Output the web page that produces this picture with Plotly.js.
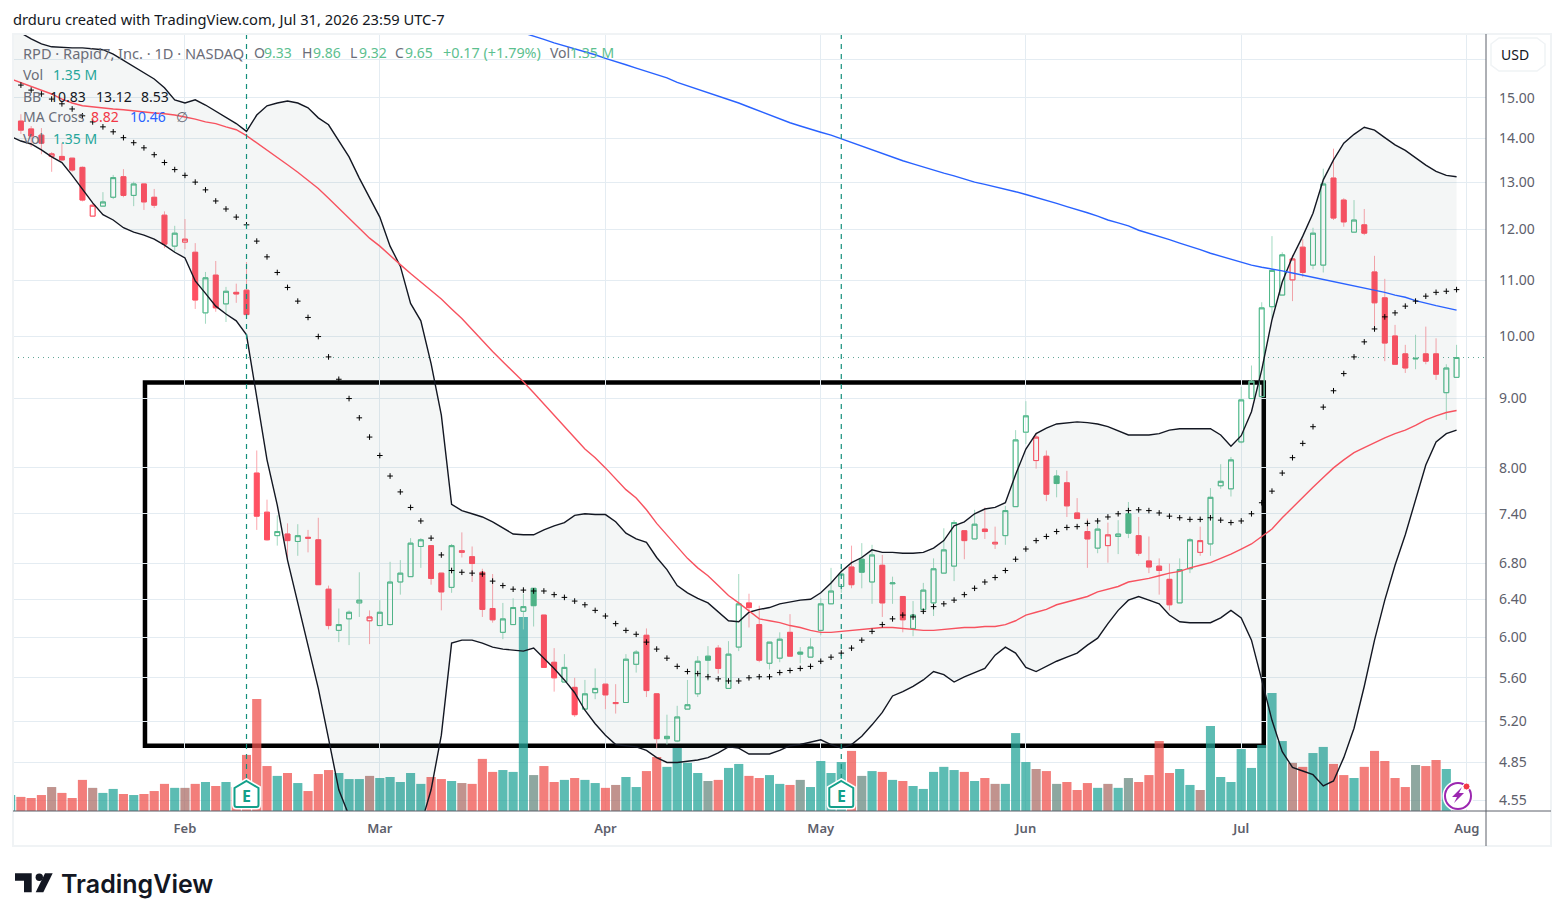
<!DOCTYPE html>
<html><head><meta charset="utf-8">
<script src="https://cdn.plot.ly/plotly-3.0.1.min.js"></script>
<style>html,body{margin:0;padding:0;background:#fff}#c{width:1564px;height:921px}</style>
</head><body><div id="c"></div>
<script>
const dates=[
'2026-01-07','2026-01-08','2026-01-09','2026-01-12','2026-01-13','2026-01-14','2026-01-15','2026-01-16','2026-01-20','2026-01-21','2026-01-22','2026-01-23','2026-01-26','2026-01-27','2026-01-28','2026-01-29','2026-01-30',
'2026-02-02','2026-02-03','2026-02-04','2026-02-05','2026-02-06','2026-02-09','2026-02-10','2026-02-11','2026-02-12','2026-02-13','2026-02-17','2026-02-18','2026-02-19','2026-02-20','2026-02-23','2026-02-24','2026-02-25','2026-02-26','2026-02-27',
'2026-03-02','2026-03-03','2026-03-04','2026-03-05','2026-03-06','2026-03-09','2026-03-10','2026-03-11','2026-03-12','2026-03-13','2026-03-16','2026-03-17','2026-03-18','2026-03-19','2026-03-20','2026-03-23','2026-03-24','2026-03-25','2026-03-26','2026-03-27','2026-03-30','2026-03-31',
'2026-04-01','2026-04-02','2026-04-06','2026-04-07','2026-04-08','2026-04-09','2026-04-10','2026-04-13','2026-04-14','2026-04-15','2026-04-16','2026-04-17','2026-04-20','2026-04-21','2026-04-22','2026-04-23','2026-04-24','2026-04-27','2026-04-28','2026-04-29','2026-04-30',
'2026-05-01','2026-05-04','2026-05-05','2026-05-06','2026-05-07','2026-05-08','2026-05-11','2026-05-12','2026-05-13','2026-05-14','2026-05-15','2026-05-18','2026-05-19','2026-05-20','2026-05-21','2026-05-22','2026-05-26','2026-05-27','2026-05-28','2026-05-29',
'2026-06-01','2026-06-02','2026-06-03','2026-06-04','2026-06-05','2026-06-08','2026-06-09','2026-06-10','2026-06-11','2026-06-12','2026-06-15','2026-06-16','2026-06-17','2026-06-18','2026-06-22','2026-06-23','2026-06-24','2026-06-25','2026-06-26','2026-06-29','2026-06-30',
'2026-07-01','2026-07-02','2026-07-06','2026-07-07','2026-07-08','2026-07-09','2026-07-10','2026-07-13','2026-07-14','2026-07-15','2026-07-16','2026-07-17','2026-07-20','2026-07-21','2026-07-22','2026-07-23','2026-07-24','2026-07-27','2026-07-28','2026-07-29','2026-07-30','2026-07-31'];
const allCategories=dates.concat(['2026-08-03']);
const open=[14.33,14.42,14.23,14.08,13.58,13.58,13.54,13.33,12.27,12.48,
12.67,13.12,12.71,12.96,12.67,12.29,11.66,11.74,11.54,10.41,
11.10,10.57,10.78,10.82,7.93,7.42,7.13,7.15,7.06,7.11,
7.08,6.51,6.07,6.19,6.36,6.17,6.12,6.13,6.59,6.65,
7.00,7.01,6.69,6.53,6.93,6.88,6.70,6.30,6.05,6.13,
6.27,6.52,6.23,5.75,5.56,5.51,5.31,5.46,5.54,5.36,
5.37,5.73,6.02,5.45,5.05,5.03,5.31,5.45,5.81,5.89,
5.50,5.90,6.36,6.13,5.74,5.79,6.05,5.85,5.80,6.07,
6.35,6.54,6.76,6.85,6.59,6.78,6.57,6.43,6.09,6.29,
6.36,6.69,6.77,7.19,7.09,7.21,7.03,7.13,7.49,8.50,
8.10,8.16,7.89,7.80,7.41,7.18,6.98,7.01,7.12,7.40,
7.13,6.83,6.77,6.62,6.36,6.74,6.93,7.03,7.76,7.72,
8.36,9.00,9.03,10.52,10.73,11.01,11.64,11.29,11.29,13.09,
12.61,11.94,12.09,11.16,10.68,10.01,9.71,9.64,9.71,9.71,
9.09,9.33];
const close=[14.59,14.20,14.06,13.89,13.64,13.50,13.27,12.61,12.50,12.57,
13.10,12.71,12.96,12.57,12.50,11.70,11.92,11.80,10.64,11.05,
10.50,10.80,10.75,10.38,7.37,7.08,7.18,7.07,7.13,7.10,
6.56,6.12,6.13,6.26,6.39,6.21,6.26,6.59,6.69,7.04,
7.08,6.63,6.48,7.01,6.95,6.80,6.29,6.18,6.19,6.31,
6.32,6.33,5.70,5.60,5.70,5.26,5.45,5.50,5.44,5.37,
5.78,5.85,5.48,5.05,5.07,5.24,5.35,5.76,5.77,5.69,
5.83,6.35,6.31,5.77,5.95,5.98,5.81,5.83,5.90,6.35,
6.49,6.68,6.56,6.70,6.90,6.36,6.58,6.18,6.23,6.50,
6.74,6.96,7.29,7.07,7.27,7.18,7.05,7.44,8.39,8.74,
8.43,7.65,7.79,7.50,7.34,7.09,7.21,7.14,7.15,7.16,
6.92,6.76,6.72,6.34,6.73,7.08,7.07,7.61,7.82,8.11,
8.98,9.27,10.50,11.19,11.49,11.41,11.15,11.92,12.96,12.23,
12.15,12.19,11.92,10.59,9.89,9.54,9.48,9.63,9.59,9.38,
9.48,9.65];
const high=[14.70,14.59,14.30,14.25,13.68,13.89,13.54,13.35,12.55,12.78,
13.16,13.29,13.01,12.96,12.85,12.37,12.07,12.21,11.72,11.16,
11.37,10.88,10.94,11.35,8.24,7.58,7.38,7.28,7.27,7.20,
7.35,6.55,6.30,6.28,6.70,6.28,6.39,6.82,6.84,7.10,
7.10,7.01,6.69,7.03,7.17,7.00,6.74,6.68,6.36,6.41,
6.46,6.52,6.23,5.89,5.83,5.60,5.58,5.69,5.54,5.54,
5.83,5.87,6.09,5.45,5.26,5.34,5.58,5.81,5.91,5.92,
5.96,6.68,6.46,6.33,5.95,6.05,6.24,5.90,5.99,6.41,
6.75,6.76,7.01,7.04,7.02,6.90,6.65,6.43,6.38,6.58,
6.86,7.22,7.32,7.19,7.45,7.48,7.24,7.50,8.53,8.96,
8.49,8.24,7.97,7.96,7.60,7.34,7.32,7.29,7.32,7.55,
7.36,7.12,6.86,6.80,6.86,7.10,7.24,7.73,8.05,8.15,
9.18,9.52,10.60,11.86,11.54,11.49,11.80,12.03,13.30,13.76,
12.65,12.61,12.42,11.47,11.03,10.20,9.86,10.03,10.17,9.97,
9.54,9.86];
const low=[14.20,14.11,13.80,13.63,13.23,13.48,13.23,12.58,12.27,12.48,
12.63,12.67,12.48,12.40,12.44,11.62,11.54,11.60,10.48,10.22,
10.43,10.25,10.59,10.38,7.20,7.07,7.01,6.84,6.89,6.93,
6.56,6.08,5.95,5.92,6.21,5.93,6.12,6.12,6.45,6.65,
6.75,6.56,6.28,6.47,6.87,6.59,6.21,6.15,5.98,6.13,
6.08,6.11,5.70,5.47,5.56,5.24,5.30,5.40,5.31,5.27,
5.37,5.65,5.42,4.97,5.00,5.02,5.31,5.42,5.57,5.64,
5.50,5.86,6.10,5.75,5.68,5.75,5.81,5.74,5.80,6.02,
6.35,6.47,6.52,6.52,6.35,6.21,6.35,6.05,6.01,6.25,
6.22,6.69,6.60,6.85,7.09,7.09,6.97,7.02,7.49,8.33,
7.99,7.56,7.61,7.36,7.34,6.75,6.92,6.81,6.91,7.10,
6.89,6.69,6.45,6.28,6.36,6.69,6.89,6.89,7.72,7.62,
8.34,9.00,9.03,10.32,10.73,10.62,11.06,11.21,11.15,12.19,
12.05,11.94,11.88,10.15,9.59,9.54,9.40,9.46,9.54,9.29,
8.68,9.32];
const volumeM=[.76,.67,.62,.76,1.14,.86,.62,1.48,1.10,.86,
1.05,.81,.76,.81,.95,1.29,1.10,1.10,1.29,1.38,
1.19,1.38,1.14,2.67,5.33,2.14,1.67,1.81,1.33,.95,
1.76,1.95,1.81,1.52,1.52,1.67,1.57,1.62,1.38,1.81,
1.29,1.62,1.52,1.43,1.33,1.29,2.48,1.86,1.95,1.86,
9.24,1.71,2.14,1.38,1.48,1.57,1.48,1.33,1.10,1.24,
1.62,1.14,1.90,2.57,2.10,3.00,2.29,1.81,1.43,1.48,
2.05,2.24,1.67,1.57,1.71,1.29,1.24,1.48,1.14,2.38,
1.81,2.33,2.86,1.67,1.90,1.86,1.48,1.43,1.19,1.05,
1.86,2.10,1.95,1.86,1.43,1.57,1.29,1.29,3.71,2.33,
2.00,1.90,1.29,1.38,1.00,1.33,1.10,1.29,1.10,1.57,
1.38,1.71,3.33,1.81,2.00,1.24,1.00,4.05,1.62,1.38,
2.95,2.05,3.14,5.62,3.33,2.29,2.10,2.76,3.05,2.24,
1.71,1.57,2.10,2.86,2.38,1.57,1.14,2.19,2.14,2.43,
2.00,1.35];
const bbBasis=[15.44,15.33,15.20,15.10,14.97,14.85,14.72,14.55,14.40,14.28,
14.16,14.02,13.90,13.78,13.62,13.44,13.28,13.15,13.00,12.83,
12.59,12.42,12.25,12.09,11.76,11.45,11.15,10.87,10.62,10.33,
10.00,9.66,9.30,9.00,8.71,8.43,8.17,7.89,7.68,7.48,
7.31,7.10,6.90,6.72,6.70,6.69,6.68,6.60,6.55,6.51,
6.50,6.49,6.49,6.45,6.42,6.38,6.34,6.28,6.22,6.14,
6.07,6.03,5.95,5.88,5.79,5.71,5.66,5.64,5.61,5.59,
5.57,5.57,5.60,5.61,5.61,5.65,5.67,5.69,5.71,5.76,
5.80,5.84,5.89,5.97,6.06,6.13,6.19,6.23,6.21,6.27,
6.32,6.35,6.39,6.45,6.52,6.59,6.64,6.72,6.85,6.97,
7.07,7.12,7.18,7.23,7.24,7.28,7.31,7.36,7.40,7.44,
7.45,7.44,7.41,7.37,7.35,7.33,7.33,7.35,7.32,7.29,
7.31,7.40,7.54,7.69,7.93,8.14,8.34,8.58,8.87,9.12,
9.39,9.66,9.91,10.13,10.34,10.41,10.53,10.62,10.71,10.78,
10.80,10.83];
const bbUpper=[16.89,16.75,16.58,16.44,16.36,16.34,16.33,16.33,16.31,16.28,
16.16,15.99,15.83,15.67,15.49,15.26,14.95,14.87,14.95,14.82,
14.67,14.52,14.36,14.17,14.57,14.80,14.87,14.92,14.87,14.75,
14.50,14.33,13.93,13.57,13.09,12.65,12.25,11.66,11.27,10.58,
10.27,9.55,8.75,7.52,7.44,7.40,7.36,7.30,7.22,7.15,
7.14,7.14,7.20,7.25,7.29,7.38,7.40,7.39,7.39,7.30,
7.16,7.09,7.05,6.87,6.73,6.55,6.47,6.41,6.36,6.26,
6.17,6.16,6.26,6.29,6.31,6.35,6.37,6.39,6.40,6.47,
6.58,6.71,6.81,6.87,6.96,6.93,6.93,6.92,6.92,6.93,
6.98,7.07,7.25,7.30,7.40,7.46,7.48,7.54,7.91,8.26,
8.48,8.56,8.62,8.64,8.65,8.64,8.62,8.58,8.52,8.46,
8.46,8.46,8.48,8.53,8.55,8.55,8.55,8.55,8.46,8.30,
8.45,8.80,9.45,10.29,10.97,11.45,11.86,12.33,13.05,13.50,
13.89,14.10,14.27,14.20,14.02,13.85,13.72,13.55,13.38,13.24,
13.15,13.12];
const bbLower=[14.05,13.94,13.87,13.73,13.57,13.44,13.15,12.85,12.55,12.30,
12.19,12.03,11.94,11.88,11.80,11.68,11.54,11.43,10.99,10.76,
10.53,10.39,10.27,10.03,9.05,8.11,7.51,6.84,6.36,5.91,
5.50,5.05,4.63,4.43,4.25,4.10,4.03,3.96,3.96,4.10,
4.36,4.63,5.08,5.94,5.97,5.97,5.94,5.90,5.88,5.87,
5.86,5.89,5.79,5.69,5.58,5.46,5.30,5.18,5.08,5.00,
4.99,4.98,4.95,4.89,4.85,4.85,4.86,4.87,4.89,4.93,
4.98,4.97,4.92,4.92,4.92,4.95,4.99,5.00,5.02,5.04,
5.00,4.97,5.00,5.07,5.17,5.28,5.43,5.47,5.52,5.58,
5.66,5.63,5.56,5.61,5.65,5.69,5.82,5.90,5.84,5.70,
5.66,5.71,5.76,5.80,5.84,5.92,5.99,6.14,6.28,6.39,
6.43,6.39,6.35,6.23,6.16,6.15,6.15,6.15,6.20,6.28,
6.20,5.97,5.58,5.21,4.94,4.81,4.78,4.75,4.66,4.70,
4.89,5.14,5.52,5.97,6.39,6.78,7.14,7.57,8.04,8.36,
8.48,8.53];
const ma50=[15.49,15.39,15.31,15.20,15.10,14.97,14.87,14.80,14.77,14.75,
14.72,14.70,14.67,14.65,14.62,14.60,14.57,14.52,14.47,14.40,
14.36,14.28,14.21,14.07,13.90,13.73,13.57,13.39,13.22,13.03,
12.86,12.65,12.44,12.23,12.03,11.82,11.66,11.47,11.30,11.13,
10.97,10.83,10.66,10.48,10.31,10.12,9.93,9.75,9.58,9.42,
9.26,9.09,8.92,8.76,8.59,8.42,8.26,8.14,8.00,7.85,
7.71,7.60,7.45,7.28,7.14,7.00,6.86,6.75,6.66,6.55,
6.44,6.36,6.27,6.19,6.17,6.15,6.12,6.10,6.07,6.05,
6.05,6.06,6.07,6.08,6.09,6.10,6.10,6.09,6.08,6.07,
6.07,6.08,6.09,6.10,6.10,6.11,6.11,6.13,6.17,6.23,
6.26,6.29,6.34,6.37,6.40,6.43,6.48,6.51,6.54,6.59,
6.61,6.63,6.66,6.69,6.71,6.75,6.78,6.81,6.86,6.91,
6.97,7.03,7.12,7.21,7.35,7.48,7.60,7.74,7.87,8.00,
8.11,8.21,8.28,8.35,8.42,8.48,8.53,8.60,8.68,8.74,
8.79,8.82];
const ma200FromMar=[16.75,16.67,16.57,16.47,16.39,16.30,16.21,16.14,16.04,15.96,
15.87,15.78,15.69,15.60,15.52,15.40,15.31,15.23,15.14,15.05,
14.96,14.87,14.77,14.67,14.57,14.47,14.38,14.30,14.22,14.15,
14.08,13.99,13.90,13.82,13.74,13.65,13.56,13.48,13.41,13.34,
13.26,13.20,13.14,13.07,13.00,12.95,12.90,12.84,12.79,12.73,
12.67,12.61,12.54,12.47,12.41,12.34,12.27,12.19,12.13,12.07,
11.98,11.92,11.86,11.79,11.72,11.66,11.59,11.52,11.46,11.40,
11.35,11.29,11.25,11.22,11.18,11.14,11.10,11.06,11.02,10.98,
10.95,10.91,10.87,10.83,10.78,10.73,10.69,10.63,10.58,10.54,
10.50,10.46];
const priceTicks=[16,15,14,13,12,11,10,9,8,7.4,6.8,6.4,6,5.6,5.2,4.85,4.55];
const priceLabels=['','15.00','14.00','13.00','12.00','11.00','10.00','9.00','8.00','7.40','6.80','6.40','6.00','5.60','5.20','4.85','4.55'];
const monthTicks=['2026-02-02','2026-03-02','2026-04-01','2026-05-01','2026-06-01','2026-07-01','2026-08-03'];
const monthLabels=['Feb','Mar','Apr','May','Jun','Jul','Aug'];
const earningsDates=['2026-02-10','2026-05-05'];
const lastPrice=9.65;
const boxHighLow=[9.25,4.99], boxDays=[13.1,122.2];

const GREEN='#50B88A',RED='#FF5062',GREENW='#A3DAC2',REDW='#FBA6AD',CLEAR='rgba(0,0,0,0)';
const TEAL='rgba(38,166,154,.5)',SALMON='rgba(239,83,80,.5)';
const L=13,R=1486,T=34,B=811,FONT='"Noto Sans",sans-serif';
const px=x=>(x-L)/(R-L), py=y=>(B-y)/(B-T);

const ups=[],downs=[];
close.forEach((c,i)=>{(i===0||c>=close[i-1])?ups.push(i):downs.push(i)});
function candle(ids,color,fill,wick){
  const top=i=>Math.max(open[i],close[i]),bot=i=>Math.min(open[i],close[i]);
  return {type:'candlestick',xaxis:'x',yaxis:'y2',hoverinfo:'skip',showlegend:false,
    x:ids.map(i=>dates[i]),open:ids.map(i=>open[i]),close:ids.map(i=>close[i]),
    high:ids.map(i=>wick?high[i]:top(i)),low:ids.map(i=>wick?low[i]:bot(i)),
    increasing:{line:{color,width:1},fillcolor:CLEAR},
    decreasing:{line:{color,width:1},fillcolor:fill}};
}
const line=(x,y,color,w,extra)=>Object.assign({type:'scatter',mode:'lines',x,y,xaxis:'x',yaxis:'y2',hoverinfo:'skip',showlegend:false,line:{color,width:w}},extra||{});
const traces=[
 {type:'bar',x:dates,y:volumeM,yaxis:'y',xaxis:'x',hoverinfo:'skip',showlegend:false,marker:{color:close.map((c,i)=>c>=open[i]?TEAL:SALMON),line:{width:0}}},
 {type:'bar',x:dates,y:volumeM,yaxis:'y',xaxis:'x',hoverinfo:'skip',showlegend:false,marker:{color:close.map((c,i)=>(i===0||c>=close[i-1])?TEAL:SALMON),line:{width:0}}},
 line(dates,bbUpper,'#131722',1.4),
 line(dates,bbLower,'#131722',1.4,{fill:'tonexty',fillcolor:'rgba(70,100,100,.058)'}),
 line(dates,ma50,'#F7525F',1.4),
 line(dates.slice(50),ma200FromMar,'#2962FF',1.4),
 {type:'scatter',mode:'markers',x:dates,y:bbBasis,xaxis:'x',yaxis:'y2',hoverinfo:'skip',showlegend:false,marker:{symbol:'cross-thin',size:4,color:'#000',line:{color:'#000',width:1}}},
 candle(ups,GREENW,CLEAR,true),candle(downs,REDW,CLEAR,true),
 candle(ups,GREEN,GREEN,false),candle(downs,RED,RED,false)
];
const lab=(text,x,y,color,size,o)=>Object.assign({text,x:px(x),y:py(y),xref:'paper',yref:'paper',xanchor:'left',yanchor:'middle',showarrow:false,borderpad:0,borderwidth:0,font:{family:FONT,size:size||14,color:color||'#6A6D78'}},o||{});
const LG='#5CC08F',TV='#26A69A';
const annotations=[
 lab('drduru created with TradingView.com, Jul 31, 2026 23:59 UTC-7',13,19,'#131722',14.7),
 lab('RPD · Rapid7, Inc. · 1D · NASDAQ',23,53,undefined,14.6),
 lab('O',254,53),lab('9.33',264,53,LG),lab('H',302,53),lab('9.86',313,53,LG),lab('L',350,53),lab('9.32',359,53,LG),lab('C',395,53),lab('9.65',405,53,LG),
 lab('+0.17 (+1.79%)',443,53,LG,14.4),lab('Vol',550,53),lab('1.35 M',570,53,LG),
 lab('Vol',23,75),lab('1.35 M',53,75,TV),
 lab('BB',23,96),lab('10.83',50,96,'#131722'),lab('13.12',96,96,'#131722'),lab('8.53',141,96,'#131722'),
 lab('MA Cross',23,117),lab('8.82',91,117,'#F23645'),lab('10.46',130,117,'#2962FF'),lab('∅',176,117),
 lab('Vol',23,138),lab('1.35 M',53,138,TV),
 lab('USD',1515,54,'#131722',14,{xanchor:'center'}),
 lab('TradingView',61,884,'#131722',25,{font:{family:'Inter,sans-serif',size:25,color:'#131722',weight:600}}),
 ...earningsDates.map(d=>({text:'E',x:d,xref:'x',y:py(796),yref:'paper',showarrow:false,yanchor:'middle',font:{family:'"Noto Sans"',size:16,color:'#12A08A',weight:700}}))
];
const house='M0,15 L12,8 L12,-9 Q12,-11 10,-11 L-10,-11 Q-12,-11 -12,-9 L-12,8 Z';
const paperPath=pts=>'M'+pts.map(p=>px(p[0])+','+py(p[1])).join(' L')+' Z';
const shapes=[
 {type:'rect',layer:'below',xref:'x',yref:'y2',x0:boxDays[0],x1:boxDays[1],y0:boxHighLow[1],y1:boxHighLow[0],line:{color:'#000',width:4.5}},
 {type:'line',xref:'paper',yref:'y2',x0:0,x1:1,y0:lastPrice,y1:lastPrice,layer:'below',line:{color:'#5FA596',width:1,dash:'1px,4px'}},
 ...earningsDates.map(d=>({type:'line',xref:'x',yref:'paper',x0:d,x1:d,y0:py(T),y1:py(784),line:{color:'#148F7C',width:1.2,dash:'5px,5px'}})),
 ...earningsDates.map(d=>({type:'path',xref:'x',yref:'paper',xsizemode:'pixel',ysizemode:'pixel',xanchor:d,yanchor:py(796),path:house,fillcolor:'#fff',line:{color:'#fff',width:5}})),
 ...earningsDates.map(d=>({type:'path',xref:'x',yref:'paper',xsizemode:'pixel',ysizemode:'pixel',xanchor:d,yanchor:py(796),path:house,fillcolor:'#fff',line:{color:'#12A08A',width:2}})),
 {type:'circle',xref:'paper',yref:'paper',x0:px(1445),x1:px(1471),y0:py(809),y1:py(783),fillcolor:'#fff',line:{color:'#fff',width:5}},
 {type:'circle',xref:'paper',yref:'paper',x0:px(1445),x1:px(1471),y0:py(809),y1:py(783),fillcolor:'#fff',line:{color:'#9C27B0',width:2}},
 {type:'path',xref:'paper',yref:'paper',path:paperPath([[1462,787],[1452,797],[1457,797],[1454,803],[1464,793],[1459,793]]),fillcolor:'#9C27B0',line:{width:0}},
 {type:'circle',xref:'paper',yref:'paper',x0:px(1463),x1:px(1470),y0:py(790),y1:py(783),fillcolor:'#F23645',line:{color:'#fff',width:1}},
 // chart frame
 {type:'rect',xref:'paper',yref:'paper',x0:px(13),x1:px(1551),y0:py(846),y1:py(34),line:{color:'#F0F3F5',width:2}},
 {type:'line',xref:'paper',yref:'paper',x0:px(1486),x1:px(1486),y0:py(846),y1:py(34),line:{color:'#5D606B',width:1}},
 {type:'line',xref:'paper',yref:'paper',x0:px(13),x1:px(1551),y0:py(811),y1:py(811),line:{color:'#5D606B',width:1}},
 {type:'path',xref:'paper',yref:'paper',path:paperPath([[1499,38],[1537,38],[1545,44],[1545,65],[1537,71],[1499,71],[1491,65],[1491,44]]),fillcolor:'#fff',line:{color:'#F0F3F5',width:1.5}},
 // logo
 {type:'path',xref:'paper',yref:'paper',path:paperPath([[15,873.3],[31.7,873.3],[31.7,892.3],[24,892.3],[24,880.7],[15,880.7]]),fillcolor:'#131722',line:{width:0}},
 {type:'circle',xref:'paper',yref:'paper',x0:px(35.6),x1:px(43),y0:py(881),y1:py(873.6),fillcolor:'#131722',line:{width:0}},
 {type:'path',xref:'paper',yref:'paper',path:paperPath([[52.7,873.3],[43.3,892.3],[35.7,892.3],[45,873.3]]),fillcolor:'#131722',line:{width:0}}
];
const layout={
 width:1564,height:921,paper_bgcolor:'#fff',plot_bgcolor:'#fff',showlegend:false,
 margin:{l:L,r:1564-R,t:T,b:921-B,pad:0},barmode:'overlay',bargap:.12,boxmode:'overlay',boxgap:.32,
 xaxis:{type:'category',categoryorder:'array',categoryarray:allCategories,range:[.23,143.87],fixedrange:true,
   tickmode:'array',tickvals:monthTicks,ticktext:monthLabels,ticks:'',showline:false,zeroline:false,
   showgrid:true,gridcolor:'#E4ECF2',gridwidth:1,rangeslider:{visible:false},
   tickfont:{family:FONT,size:13,color:'#5D606B',weight:600},ticklabelstandoff:8},
 yaxis:{domain:[0,1],range:[0,37],visible:false,fixedrange:true,showgrid:false,zeroline:false},
 yaxis2:{overlaying:'y',side:'right',type:'log',range:[Math.log10(4.466),Math.log10(16.72)],fixedrange:true,
   tickmode:'array',tickvals:priceTicks,ticktext:priceLabels,ticks:'',showline:false,zeroline:false,
   showgrid:true,gridcolor:'#E4ECF2',gridwidth:1,tickfont:{family:FONT,size:14,color:'#5D606B'},ticklabelstandoff:12},
 shapes,annotations
};
Plotly.newPlot('c',traces,layout,{staticPlot:true,displayModeBar:false});
</script></body></html>
